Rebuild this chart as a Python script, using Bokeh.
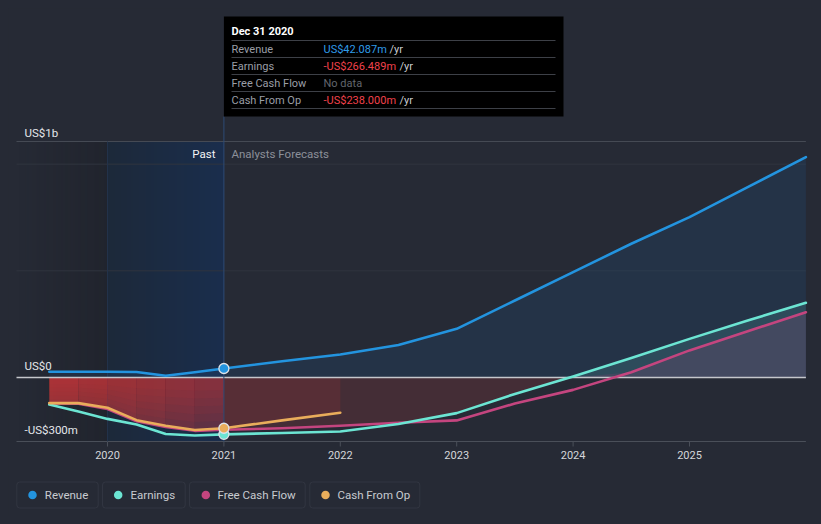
import numpy as np
from bokeh.plotting import figure
from bokeh.models import Range1d, BoxAnnotation
from bokeh.core.properties import value
from bokeh.embed import file_html
from bokeh.resources import INLINE

# ---------------- data (US$ millions, x in fractional years) ----------------
past_x = [2019.5, 2019.75, 2020.0, 2020.25, 2020.5, 2020.75, 2021.0]
revenue_past = [27, 27, 27, 26, 8, 25, 42.087]
earnings_past = [-127, -159, -194, -220, -265, -272, -266.489]
fcf_past = [-122, -123, -148, -205, -232, -250, -245]
cfo_past = [-120, -120, -142, -200, -226, -246, -238]

fc_x = [2021.0, 2021.5, 2022.0, 2022.5, 2023.0, 2023.5, 2024.0, 2024.5, 2025.0, 2025.5, 2026.0]
revenue_fc = [42.087, 76, 108, 152, 228, 361, 494, 627, 752, 892, 1033]
earnings_fc = [-266.489, -260, -253, -218, -167, -77, 5, 91, 181, 267, 350]
fcf_fc = [-245, -238, -226, -212, -201, -122, -58, 25, 127, 217, 306]
cfo_fc_x = [2021.0, 2021.5, 2022.0]
cfo_fc = [-238, -201, -165]

year_ticks = [2020, 2021, 2022, 2023, 2024, 2025]
year_labels = ["2020", "2021", "2022", "2023", "2024", "2025"]
y_labels = ["US$1b", "US$0", "-US$300m"]
grid_vals = [500, 1000]

series_names = ["Revenue", "Earnings", "Free Cash Flow", "Cash From Op"]
tooltip_title = "Dec 31 2020"
tooltip_labels = ["Revenue", "Earnings", "Free Cash Flow", "Cash From Op"]
tooltip_values = ["US$42.087m", "-US$266.489m", "No data", "-US$238.000m"]

# ---------------- style ----------------
BG = "#262a35"
C_REV = "#2394df"
C_EARN = "#6ce5d3"
C_FCF = "#c4457f"
C_CFO = "#e9ad5b"
RED = "#c8383c"
FONT = value("Roboto")

# page pixel -> data helpers (for decoration placement)
PXY = 116.4          # px per year
PXM = 64.0 / 300.0   # px per US$m


def xd(px):
    return 2020 + (px - 107) / PXY


def yd(py):
    return (377 - py) / PXM


W, H = 805, 508
p = figure(width=W, height=H, x_range=Range1d(xd(8), xd(8 + W)),
           y_range=Range1d(yd(8 + H), yd(8)),
           x_axis_location=None, y_axis_location=None, min_border=0,
           toolbar_location=None, outline_line_color=None,
           background_fill_color=BG, border_fill_color=BG,
           output_backend="svg")
p.grid.visible = False

X_L, X_R = xd(16), fc_x[-1]
Y_TOP = yd(141)
Y_BOT = -300


def grad_img(c0, c1, a0, a1, n):
    img = np.empty((1, n), dtype=np.uint32)
    v = img.view(dtype=np.uint8).reshape((1, n, 4))
    t = np.linspace(0, 1, n)
    for k in range(3):
        v[0, :, k] = (c0[k] + (c1[k] - c0[k]) * t).astype(np.uint8)
    v[0, :, 3] = (255 * (a0 + (a1 - a0) * t)).astype(np.uint8)
    return img


# shaded past bands
p.image_rgba(image=[grad_img((18, 20, 24), (18, 20, 24), 0.0, 0.25, 91)],
             x=X_L, y=Y_BOT, dw=2020 - X_L, dh=Y_TOP - Y_BOT)
p.image_rgba(image=[grad_img((29, 41, 58), (26, 46, 77), 1.0, 1.0, 116)],
             x=2020, y=Y_BOT, dw=1.0, dh=Y_TOP - Y_BOT)

# gridlines
p.segment(x0=[X_L] * len(grid_vals), x1=[X_R] * len(grid_vals), y0=grid_vals, y1=grid_vals,
          line_color="#30353f", line_width=1)
p.segment(x0=[X_L], x1=[X_R], y0=[Y_TOP], y1=[Y_TOP], line_color="#454a54", line_width=1)
p.segment(x0=[X_L], x1=[X_R], y0=[Y_BOT], y1=[Y_BOT], line_color="#4a4f59", line_width=1)
p.segment(x0=year_ticks, x1=year_ticks, y0=[Y_BOT] * 6, y1=[yd(446)] * 6,
          line_color="#4a4f59", line_width=1)
p.segment(x0=[2020], x1=[2020], y0=[Y_BOT], y1=[Y_TOP], line_color="#22324a", line_width=1)

# ---------------- fills ----------------
all_x = past_x + fc_x[1:]
rev_all = revenue_past + revenue_fc[1:]
p.varea(x=all_x, y1=[0] * len(all_x), y2=rev_all, fill_color="#1e5a96", fill_alpha=0.19)

fe = np.array(earnings_fc, float)
ff = np.array(fcf_fc, float)
p.varea(x=fc_x, y1=[0] * len(fc_x), y2=np.maximum(0, fe), fill_color=C_EARN, fill_alpha=0.14)
p.varea(x=fc_x, y1=[0] * len(fc_x), y2=np.maximum(0, ff), fill_color=C_FCF, fill_alpha=0.15)

# past negative fill with horizontal / vertical fade
bp = np.minimum(0, np.maximum.reduce([np.array(earnings_past, float),
                                      np.array(fcf_past, float),
                                      np.array(cfo_past, float)]))
alphas = np.linspace(0.72, 0.40, len(past_x) - 1)
for i in range(len(past_x) - 1):
    xs = past_x[i:i + 2]
    b = bp[i:i + 2]
    p.varea(x=xs, y1=[0, 0], y2=b, fill_color=RED, fill_alpha=alphas[i])
    for k in (0.85, 0.7, 0.55, 0.4, 0.25):
        p.varea(x=xs, y1=[0, 0], y2=b * k, fill_color=RED, fill_alpha=0.09)

# forecast negative fill
bf = np.minimum(0, np.maximum(fe, ff))
p.varea(x=fc_x, y1=[0] * len(fc_x), y2=bf, fill_color=RED, fill_alpha=0.19)
p.varea(x=cfo_fc_x, y1=[0] * len(cfo_fc_x), y2=cfo_fc, fill_color=RED, fill_alpha=0.15)

# zero line
p.segment(x0=[X_L], x1=[X_R], y0=[0], y1=[0], line_color="#c5c7cc", line_width=1.5)

# now line
p.segment(x0=[2021], x1=[2021], y0=[Y_BOT], y1=[yd(116)], line_color="#2d4a75", line_width=1)

# ---------------- lines ----------------
lk = dict(line_width=2.6, line_cap="round", line_join="round")
p.line(all_x, fcf_past + fcf_fc[1:], line_color=C_FCF, **lk)
p.line(all_x, earnings_past + earnings_fc[1:], line_color=C_EARN, **lk)
p.line(past_x + cfo_fc_x[1:], cfo_past + cfo_fc[1:], line_color=C_CFO, **lk)
p.line(all_x, rev_all, line_color=C_REV, **lk)

mk = dict(size=10, line_color="#dfe3e8", line_width=1.3)
p.scatter([past_x[-1]], [earnings_past[-1]], fill_color=C_EARN, **mk)
p.scatter([past_x[-1]], [cfo_past[-1]], fill_color=C_CFO, **mk)
p.scatter([past_x[-1]], [revenue_past[-1]], fill_color=C_REV, **mk)

# ---------------- texts ----------------
tk = dict(text_font=FONT, text_baseline="middle")
p.text(x=[xd(24)] * 3, y=[yd(132), yd(365), yd(429)], text=y_labels,
       text_color="#e4e6ea", text_font_size="11.5px", text_align="left", **tk)
p.text(x=year_ticks, y=[yd(454)] * 6, text=year_labels, text_color="#d4d6da",
       text_font_size="11px", text_align="center", **tk)
p.text(x=[xd(215)], y=[yd(153)], text=["Past"], text_color="#f2f3f5",
       text_font_size="11.5px", text_align="right", **tk)
p.text(x=[xd(231)], y=[yd(153)], text=["Analysts Forecasts"], text_color="#8c9099",
       text_font_size="11.5px", text_align="left", **tk)

# tooltip
p.quad(left=[2021], right=[xd(563)], top=[yd(16)], bottom=[yd(116)],
       fill_color="#000000", line_color=None)
sep_y = [yd(v) for v in (40, 57, 74, 91, 108)]
p.segment(x0=[xd(231)] * 5, x1=[xd(555)] * 5, y0=sep_y, y1=sep_y,
          line_color="#3d4047", line_width=1)
p.text(x=[xd(231)], y=[yd(31)], text=[tooltip_title], text_color="#ffffff",
       text_font_size="11px", text_font_style="bold", text_align="left", **tk)
row_y = [yd(v) for v in (48.5, 65.5, 82.5, 99.5)]
p.text(x=[xd(231)] * 4, y=row_y, text=tooltip_labels, text_color="#9a9ea6",
       text_font_size="11px", text_align="left", **tk)
val_colors = ["#2f9be8", "#f0424c", "#62666d", "#f0424c"]
p.text(x=[xd(323)] * 4, y=row_y, text=tooltip_values, text_color=val_colors,
       text_font_size="11px", text_align="left", **tk)
p.text(x=[xd(389), xd(399), xd(399)], y=[row_y[0], row_y[1], row_y[3]],
       text=["/yr"] * 3, text_color="#c9ccd1", text_font_size="11px",
       text_align="left", **tk)

# legend
boxes = [(16.3, 97.7), (102, 184.7), (189, 304.7), (309.3, 419.3)]
dots = [32, 117.7, 205.3, 325]
txts = [44.3, 130, 217, 337]
cols = [C_REV, C_EARN, C_FCF, C_CFO]
for (l, r) in boxes:
    p.add_layout(BoxAnnotation(left=xd(l), right=xd(r), top=yd(481.5), bottom=yd(507.5),
                               fill_alpha=0, line_color="#4b515c", line_width=1,
                               border_radius=3))
p.scatter([xd(v) for v in dots], [yd(494.5)] * 4, size=8.5, fill_color=cols, line_color=None)
p.text(x=[xd(v) for v in txts], y=[yd(494.5)] * 4, text=series_names,
       text_color="#c8cbd0", text_font_size="11.5px", text_align="left", **tk)

html = file_html(p, INLINE)
html = html.replace("</head>", "<style>html{background:%s;} body{background:%s;margin:8px;}</style></head>" % (BG, BG), 1)
open("out.html", "w").write(html)
